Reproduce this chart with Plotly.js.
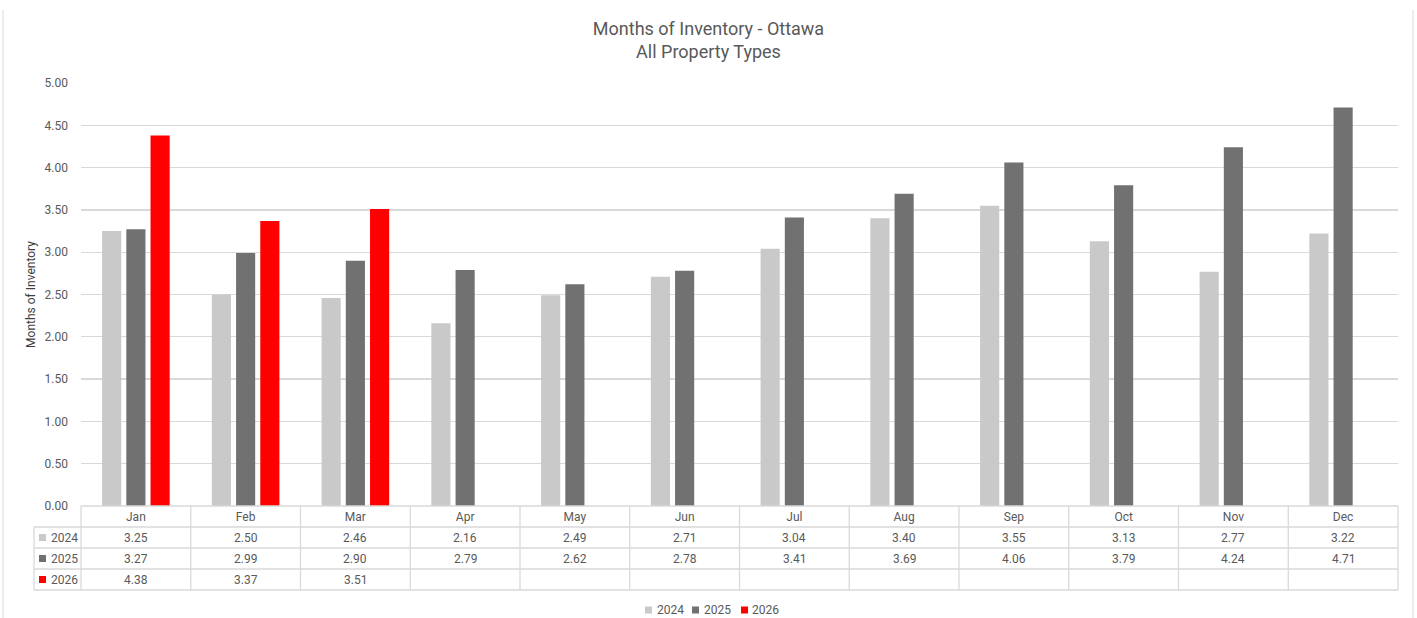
<!DOCTYPE html>
<html>
<head>
<meta charset="utf-8">
<script src="https://cdn.plot.ly/plotly-3.0.1.min.js"></script>
<style>html,body{margin:0;padding:0;background:#fff;}#chart{width:1417px;height:618px;}</style>
</head>
<body>
<div id="chart"></div>
<script>
// ---- data ----
const months = ['Jan','Feb','Mar','Apr','May','Jun','Jul','Aug','Sep','Oct','Nov','Dec'];
const years = ['2024','2025','2026'];
const v2024 = [3.25,2.50,2.46,2.16,2.49,2.71,3.04,3.40,3.55,3.13,2.77,3.22];
const v2025 = [3.27,2.99,2.90,2.79,2.62,2.78,3.41,3.69,4.06,3.79,4.24,4.71];
const v2026 = [4.38,3.37,3.51,null,null,null,null,null,null,null,null,null];
const yTicks = [0,0.5,1,1.5,2,2.5,3,3.5,4,4.5,5];
const chartTitle = 'Months of Inventory - Ottawa<br>All Property Types';
const yTitle = 'Months of Inventory';

// ---- style ----
const colors = ['#c9c9c9','#717171','#ff0000'];
const series = [v2024, v2025, v2026];
const textColor = '#595959';
const gridColor = '#d9d9d9';
const fontFam = 'Roboto, "Liberation Sans", sans-serif';

const W = 1417, H = 618;
const M = {l:81, r:19, t:83, b:112};
const plotW = W - M.l - M.r, plotH = H - M.t - M.b;
const px2x = X => (X - M.l) / plotW;
const px2y = Y => (H - M.b - Y) / plotH;

const traces = series.map((vals, i) => ({
  type: 'bar', name: years[i], x: months, y: vals,
  marker: {color: colors[i]}, showlegend: false, hoverinfo: 'x+y+name'
}));

const shapes = [];
const annotations = [];
const lineStyle = {color: gridColor, width: 1.3};

// table geometry (pixels)
const tableTop = H - M.b;      // 506
const rowH = 21;
const nRows = years.length;
const leftColX = 34;

// horizontal lines
shapes.push({type:'line', xref:'paper', yref:'paper', x0:0, x1:1, y0:px2y(tableTop), y1:px2y(tableTop), line:lineStyle});
for (let r = 1; r <= nRows + 1; r++) {
  const Y = tableTop + r*rowH;
  shapes.push({type:'line', xref:'paper', yref:'paper', x0:px2x(leftColX), x1:1, y0:px2y(Y), y1:px2y(Y), line:lineStyle});
}
// vertical lines at category boundaries
for (let k = 0; k <= months.length; k++) {
  shapes.push({type:'line', xref:'paper', yref:'paper', x0:k/months.length, x1:k/months.length,
    y0:px2y(tableTop), y1:px2y(tableTop + (nRows+1)*rowH), line:lineStyle});
}
shapes.push({type:'line', xref:'paper', yref:'paper', x0:px2x(leftColX), x1:px2x(leftColX),
  y0:px2y(tableTop + rowH), y1:px2y(tableTop + (nRows+1)*rowH), line:lineStyle});

// table values and row legends
series.forEach((vals, r) => {
  const yc = tableTop + (r+1)*rowH + rowH/2;
  vals.forEach((v, i) => {
    if (v === null) return;
    annotations.push({xref:'x', yref:'paper', x:months[i], y:px2y(yc), text:v.toFixed(2),
      showarrow:false, font:{family:fontFam, size:12, color:textColor}, xanchor:'center', yanchor:'middle'});
  });
  shapes.push({type:'rect', xref:'paper', yref:'paper', x0:px2x(39), x1:px2x(46),
    y0:px2y(yc-3.5), y1:px2y(yc+3.5), fillcolor:colors[r], line:{width:0}});
  annotations.push({xref:'paper', yref:'paper', x:px2x(48.5), y:px2y(yc), text:years[r],
    showarrow:false, font:{family:fontFam, size:12, color:textColor}, xanchor:'left', yanchor:'middle'});
});

// bottom legend
const legY = 610;
const legX = [645, 692, 741];
years.forEach((yr, i) => {
  shapes.push({type:'rect', xref:'paper', yref:'paper', x0:px2x(legX[i]), x1:px2x(legX[i]+7),
    y0:px2y(legY-3.5), y1:px2y(legY+3.5), fillcolor:colors[i], line:{width:0}});
  annotations.push({xref:'paper', yref:'paper', x:px2x(legX[i]+9.5), y:px2y(legY), text:yr,
    showarrow:false, font:{family:fontFam, size:12, color:textColor}, xanchor:'left', yanchor:'middle'});
});

// frame sides
[3, 1413].forEach(X => {
  shapes.push({type:'line', xref:'paper', yref:'paper', x0:px2x(X), x1:px2x(X), y0:px2y(10), y1:px2y(H+2),
    line:{color:'#d9d9d9', width:1}});
});

const layout = {
  width: W, height: H,
  margin: M,
  paper_bgcolor: '#ffffff', plot_bgcolor: '#ffffff',
  font: {family: fontFam, color: textColor},
  title: {text: chartTitle, font: {family: fontFam, size: 18, color: textColor},
    x: 0.5, xref: 'container', xanchor: 'center', y: 1 - 35/H, yref: 'container', yanchor: 'top'},
  barmode: 'group', bargap: 0.338, bargroupgap: 0.21,
  xaxis: {type: 'category', categoryarray: months, showgrid: false, showline: false, zeroline: false,
    ticks: '', ticklabelstandoff: 2, tickfont: {family: fontFam, size: 12, color: textColor}, fixedrange: true, automargin: false},
  yaxis: {range: [0, 5], tickvals: yTicks, tickformat: '.2f', showgrid: true, gridcolor: gridColor, gridwidth: 1.3,
    zeroline: false, showline: false, ticks: '', ticklabelstandoff: 12,
    tickfont: {family: fontFam, size: 12, color: textColor}, automargin: false,
    title: {text: yTitle, font: {family: fontFam, size: 12, color: '#404040'}, standoff: 6}},
  shapes: shapes,
  annotations: annotations,
  showlegend: false
};

Plotly.newPlot('chart', traces, layout, {displayModeBar: false, staticPlot: true});
</script>
</body>
</html>
